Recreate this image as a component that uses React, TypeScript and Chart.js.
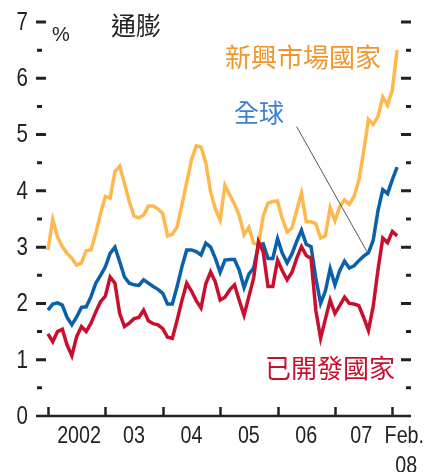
import React, { useEffect, useRef } from "react";
import { Chart, registerables } from "chart.js";

Chart.register(...registerables);

// Monthly data, Jan 2002 – Feb 2008 (74 months), inflation %
const months: number[] = Array.from({ length: 74 }, (_, i) => i);

const emerging: number[] = [
  2.95, 3.49, 3.18, 3.01, 2.89, 2.80, 2.68, 2.72, 2.94, 2.95, 3.25, 3.60, 3.90, 3.87, 4.34, 4.44, 4.13, 3.81, 3.55,
  3.52, 3.57, 3.73, 3.73, 3.68, 3.60, 3.20, 3.23, 3.36, 3.75, 4.15, 4.55, 4.80, 4.78, 4.50, 3.98, 3.68, 3.48, 4.10,
  3.93, 3.76, 3.56, 3.22, 3.35, 3.07, 3.05, 3.55, 3.78, 3.81, 3.82, 3.50, 3.27, 3.34, 3.65, 3.96, 3.45, 3.45, 3.42,
  3.16, 3.20, 3.70, 3.47, 3.72, 3.84, 3.76, 3.90, 4.19, 4.70, 5.27, 5.18, 5.32, 5.67, 5.52, 5.80, 6.50,
];

const world: number[] = [
  1.88, 1.99, 2.01, 1.97, 1.75, 1.62, 1.76, 1.93, 1.94, 2.12, 2.36, 2.50, 2.65, 2.89, 3.00, 2.74, 2.47, 2.36, 2.33,
  2.32, 2.42, 2.36, 2.30, 2.25, 2.18, 1.99, 1.99, 2.30, 2.65, 2.95, 2.95, 2.92, 2.86, 3.07, 3.00, 2.80, 2.55, 2.77,
  2.78, 2.78, 2.59, 2.28, 2.52, 2.63, 3.03, 3.06, 2.80, 2.80, 3.15, 2.89, 2.72, 2.88, 3.10, 3.30, 3.05, 3.01, 2.45,
  2.00, 2.22, 2.62, 2.33, 2.58, 2.75, 2.63, 2.67, 2.76, 2.84, 2.90, 3.12, 3.65, 4.02, 3.95, 4.20, 4.42,
];

const developed: number[] = [
  1.46, 1.32, 1.50, 1.54, 1.26, 1.07, 1.41, 1.59, 1.50, 1.65, 1.85, 2.03, 2.13, 2.47, 2.36, 1.82, 1.59, 1.65, 1.73,
  1.75, 1.88, 1.69, 1.64, 1.62, 1.55, 1.40, 1.38, 1.70, 2.05, 2.36, 2.22, 2.05, 1.92, 2.35, 2.56, 2.38, 2.06, 2.11,
  2.24, 2.33, 2.05, 1.79, 2.12, 2.45, 3.10, 2.92, 2.30, 2.30, 2.77, 2.58, 2.42, 2.55, 2.80, 3.01, 2.85, 2.80, 1.88,
  1.38, 1.72, 2.06, 1.82, 1.96, 2.11, 2.00, 1.99, 1.96, 1.75, 1.52, 1.95, 2.60, 3.16, 3.08, 3.28, 3.20,
];

// x-axis: tick marks at each January, labels at mid-year
const yearTicks: number[] = [0, 12, 24, 36, 48, 60, 72];
const yearLabels: string[] = ["2002", "03", "04", "05", "06", "07"];
const yearLabelPos: number[] = [6.5, 18, 30, 42, 54, 65.5];
const lastLabel: string[] = ["Feb.", "08"];
const lastLabelPos = 74.5;

const yTickValues: number[] = [0, 1, 2, 3, 4, 5, 6, 7];
const yMinorValues: number[] = [0.5, 1.5, 2.5, 3.5, 4.5, 5.5, 6.5];

// pointer line from "全球" label to the world series (month, value)
const pointerFrom = { x: 52, y: 5.14 };
const pointerTo = { x: 66.7, y: 2.92 };

const NUM_FONT = "'Liberation Sans', Arial, sans-serif";
const CJK_FONT = "'Noto Sans CJK TC', 'Noto Sans CJK SC', sans-serif";

function narrowText(ctx: CanvasRenderingContext2D, text: string, x: number, y: number) {
  ctx.save();
  ctx.translate(x, y);
  ctx.scale(0.82, 1);
  ctx.fillText(text, 0, 0);
  ctx.restore();
}

const decorPlugin = {
  id: "decor",
  afterDatasetsDraw(chart: any) {
    const ctx = chart.ctx as CanvasRenderingContext2D;
    const xs = chart.scales.x;
    const ys = chart.scales.y;
    const area = chart.chartArea;
    const y0 = ys.getPixelForValue(0);
    ctx.save();

    // pointer line
    ctx.strokeStyle = "#555";
    ctx.lineWidth = 1;
    ctx.beginPath();
    ctx.moveTo(xs.getPixelForValue(pointerFrom.x), ys.getPixelForValue(pointerFrom.y));
    ctx.lineTo(xs.getPixelForValue(pointerTo.x), ys.getPixelForValue(pointerTo.y));
    ctx.stroke();

    // x axis line
    ctx.strokeStyle = "#222";
    ctx.lineWidth = 2.5;
    ctx.beginPath();
    ctx.moveTo(area.left, y0);
    ctx.lineTo(area.right, y0);
    ctx.stroke();

    // x tick marks (upward)
    ctx.lineWidth = 2.5;
    for (const m of yearTicks) {
      const px = Math.round(xs.getPixelForValue(m)) + 0.5;
      ctx.beginPath();
      ctx.moveTo(px, y0);
      ctx.lineTo(px, y0 - 9);
      ctx.stroke();
    }

    // y tick marks left and right
    ctx.lineWidth = 3;
    for (const v of yTickValues) {
      if (v === 0) continue;
      const py = ys.getPixelForValue(v);
      ctx.beginPath();
      ctx.moveTo(area.left, py);
      ctx.lineTo(area.left + 10, py);
      ctx.moveTo(area.right - 10, py);
      ctx.lineTo(area.right, py);
      ctx.stroke();
    }
    for (const v of yMinorValues) {
      const py = ys.getPixelForValue(v);
      ctx.beginPath();
      ctx.moveTo(area.left + 1, py);
      ctx.lineTo(area.left + 6, py);
      ctx.moveTo(area.right - 5, py);
      ctx.lineTo(area.right, py);
      ctx.stroke();
    }

    // y tick labels
    ctx.fillStyle = "#222";
    ctx.font = `25px ${NUM_FONT}`;
    ctx.textAlign = "right";
    ctx.textBaseline = "middle";
    for (const v of yTickValues) {
      narrowText(ctx, String(v), area.left - 8, ys.getPixelForValue(v) + 1);
    }

    // x labels
    ctx.font = `24px ${NUM_FONT}`;
    ctx.textAlign = "center";
    yearLabels.forEach((lab, i) => {
      narrowText(ctx, lab, xs.getPixelForValue(yearLabelPos[i]), y0 + 20);
    });
    narrowText(ctx, lastLabel[0], xs.getPixelForValue(lastLabelPos), y0 + 20);
    narrowText(ctx, lastLabel[1], xs.getPixelForValue(lastLabelPos) + 2, y0 + 50);

    // % unit
    ctx.textAlign = "left";
    ctx.font = `20px ${NUM_FONT}`;
    ctx.fillText("%", 52, 35);

    // title and series labels
    ctx.font = `25px ${CJK_FONT}`;
    ctx.fillStyle = "#222";
    ctx.fillText("通膨", 111, 25);
    ctx.fillStyle = "#F0962A";
    ctx.font = `26px ${CJK_FONT}`;
    ctx.fillText("新興市場國家", 225, 57);
    ctx.fillStyle = "#3C80D8";
    ctx.font = `25px ${CJK_FONT}`;
    ctx.fillText("全球", 234, 112);
    ctx.fillStyle = "#C8102E";
    ctx.font = `26px ${CJK_FONT}`;
    ctx.fillText("已開發國家", 265, 368);

    ctx.restore();
  },
};

export default function App() {
  const canvasRef = useRef<HTMLCanvasElement | null>(null);

  useEffect(() => {
    if (!canvasRef.current) return;
    const toPts = (arr: number[]) => arr.map((v, i) => ({ x: months[i], y: v }));
    const chart = new Chart(canvasRef.current, {
      type: "line",
      data: {
        datasets: [
          {
            label: "已開發國家",
            data: toPts(developed),
            borderColor: "#C8102E",
            borderWidth: 3.5,
            pointRadius: 0,
            tension: 0,
            order: 0,
          },
          {
            label: "全球",
            data: toPts(world),
            borderColor: "#0A60AA",
            borderWidth: 3.5,
            pointRadius: 0,
            tension: 0,
            order: 1,
          },
          {
            label: "新興市場國家",
            data: toPts(emerging),
            borderColor: "#FFB84D",
            borderWidth: 3.5,
            pointRadius: 0,
            tension: 0,
            order: 2,
          },
        ],
      },
      options: {
        animation: false,
        responsive: false,
        devicePixelRatio: 1,
        layout: { padding: { left: 36, right: 18, top: 22, bottom: 56 } },
        plugins: { legend: { display: false }, tooltip: { enabled: false } },
        scales: {
          x: { type: "linear", min: -2.5, max: 75.9, display: false },
          y: { type: "linear", min: 0, max: 7, display: false },
        },
      },
      plugins: [decorPlugin],
    });
    return () => chart.destroy();
  }, []);

  return (
    <div style={{ position: "absolute", left: 0, top: 0, width: 429, height: 472, background: "#fff" }}>
      <canvas ref={canvasRef} width={429} height={472} style={{ width: 429, height: 472 }} />
    </div>
  );
}
